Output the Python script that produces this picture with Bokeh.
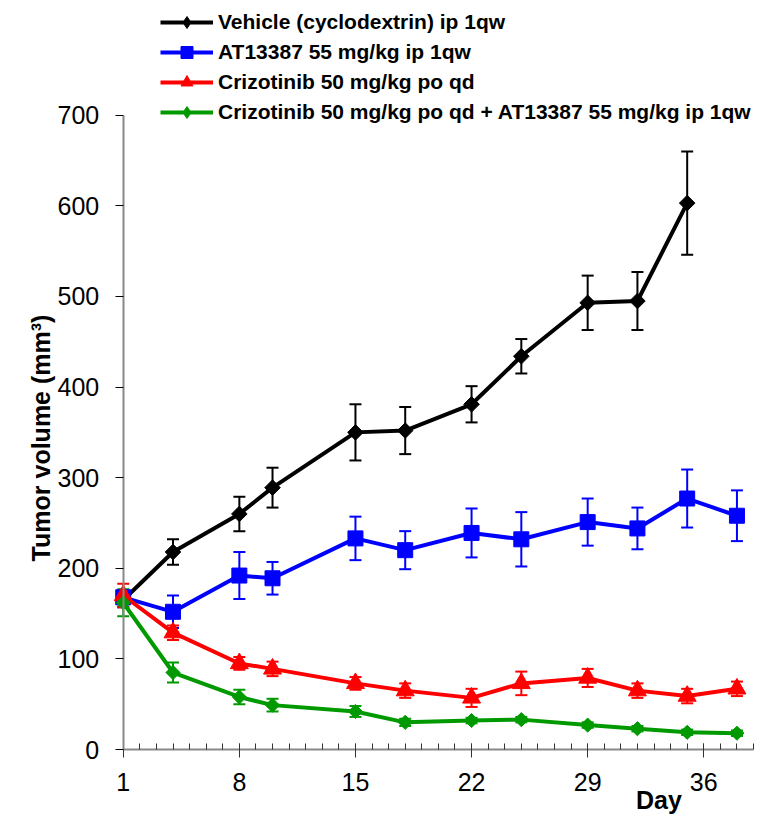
from bokeh.plotting import figure
from bokeh.models import (Range1d, FixedTicker, Whisker, TeeHead, ColumnDataSource,
                          Legend, LegendItem, Label, LinearAxis)
from bokeh.embed import file_html
from bokeh.resources import INLINE
import math

# ---- data ----
days_vehicle = [1, 4, 8, 10, 15, 18, 22, 25, 29, 32, 35]
vehicle = [165, 218, 260, 289, 350, 352, 381, 434, 493, 495, 603]
vehicle_err = [8, 14, 19, 22, 31, 26, 20, 19, 30, 32, 57]

days = [1, 4, 8, 10, 15, 18, 22, 25, 29, 32, 35, 38]
at13387 = [168, 152, 192, 189, 233, 220, 239, 232, 251, 244, 277, 258]
at13387_err = [8, 18, 26, 18, 24, 21, 27, 30, 26, 23, 32, 28]
crizotinib = [170, 129, 95, 89, 73, 65, 57, 73, 79, 65, 59, 67]
crizotinib_err = [13, 8, 7, 8, 7, 8, 10, 13, 10, 8, 8, 8]
combo = [162, 85, 58, 49, 42, 30, 32, 33, 27, 23, 19, 18]
combo_err = [15, 11, 8, 7, 6, 4, 3, 3, 3, 3, 3, 3]

labels = ["Vehicle (cyclodextrin) ip 1qw",
          "AT13387 55 mg/kg ip 1qw",
          "Crizotinib 50 mg/kg po qd",
          "Crizotinib 50 mg/kg po qd + AT13387 55 mg/kg ip 1qw"]

x_major_ticks = [1, 8, 15, 22, 29, 36]
x_minor_ticks = list(range(1, 40))
y_ticks = [0, 100, 200, 300, 400, 500, 600, 700]
x_title = "Day"
y_title = "Tumor volume (mm³)"

FONT = "Liberation Sans"

W, H = 760, 815
p = figure(frame_width=W, frame_height=H, min_border=0,
           x_range=Range1d(-6.40, 39.42), y_range=Range1d(-72.8, 826.6),
           x_axis_type=None, y_axis_type=None,
           output_backend="svg", toolbar_location=None)
p.outline_line_color = None
p.background_fill_color = "white"
p.border_fill_color = "white"

# (x, y, err, colour, marker, size, angle, legend marker)
series = [
    (days_vehicle, vehicle, vehicle_err, "black", "square", 11, math.pi / 4, "diamond"),
    (days, at13387, at13387_err, "#0000FF", "square", 15, 0, None),
    (days, crizotinib, crizotinib_err, "#FF0000", "triangle", 18, 0, None),
    (days, combo, combo_err, "#009900", "square", 10, math.pi / 4, "diamond"),
]

# axes (drawn at fixed positions so that nothing is clipped)
xa = LinearAxis(fixed_location=0, bounds=(1, 39))
xa.ticker = FixedTicker(ticks=x_major_ticks, minor_ticks=x_minor_ticks)
xa.axis_line_color = "#888888"
xa.axis_line_width = 2
xa.major_tick_line_color = "#333333"
xa.minor_tick_line_color = "#333333"
xa.major_tick_in = 6
xa.major_tick_out = 8
xa.minor_tick_in = 6
xa.minor_tick_out = 0
xa.major_label_text_font = FONT
xa.major_label_text_font_size = "25px"
xa.major_label_text_color = "black"
xa.major_label_standoff = 15
p.add_layout(xa, "below")

ya = LinearAxis(fixed_location=1, bounds=(0, 700))
ya.ticker = FixedTicker(ticks=y_ticks, minor_ticks=[])
ya.axis_line_color = "#888888"
ya.axis_line_width = 2
ya.major_tick_line_color = "black"
ya.major_tick_in = 0
ya.major_tick_out = 8
ya.minor_tick_in = 0
ya.minor_tick_out = 0
ya.major_label_text_font = FONT
ya.major_label_text_font_size = "25px"
ya.major_label_text_color = "black"
ya.major_label_standoff = 16
p.add_layout(ya, "left")

items = []
for (xs, ys, es, col, mk, sz, ang, lmk), lab in zip(series, labels):
    src = ColumnDataSource(dict(x=xs, y=ys,
                                upper=[v + e for v, e in zip(ys, es)],
                                lower=[v - e for v, e in zip(ys, es)]))
    w = Whisker(source=src, base="x", upper="upper", lower="lower",
                line_color=col, line_width=2,
                upper_head=TeeHead(size=12, line_color=col, line_width=2),
                lower_head=TeeHead(size=12, line_color=col, line_width=2))
    p.add_layout(w)
    lr = p.line("x", "y", source=src, line_color=col, line_width=4)
    sr = p.scatter("x", "y", source=src, marker=mk, size=sz, angle=ang,
                   fill_color=col, line_color=col)
    if lmk is not None:
        # hidden twin used only for the legend (legend glyphs ignore rotation)
        lsr = p.scatter("x", "y", source=src, marker=lmk, size=sz,
                        fill_color=col, line_color=col, visible=False)
        items.append(LegendItem(label=lab, renderers=[lr, lsr]))
    else:
        items.append(LegendItem(label=lab, renderers=[lr, sr]))

legend = Legend(items=items, location=(160, 688),
                label_text_font=FONT, label_text_font_style="bold",
                label_text_font_size="21px", label_text_color="black",
                glyph_width=53, glyph_height=30, label_height=30,
                label_standoff=5, spacing=0, padding=0, margin=0,
                border_line_color=None, background_fill_alpha=0)
p.add_layout(legend)

p.add_layout(Label(x=-3.98, y=343.8, text=y_title, angle=math.pi / 2,
                   text_align="center", text_baseline="middle",
                   text_font=FONT, text_font_style="bold",
                   text_font_size="25px", text_color="black"))
p.add_layout(Label(x=33.3, y=-55.2, text=x_title, text_align="center",
                   text_baseline="middle", text_font=FONT,
                   text_font_style="bold", text_font_size="25px",
                   text_color="black"))

open("out.html", "w").write(file_html(p, INLINE))
